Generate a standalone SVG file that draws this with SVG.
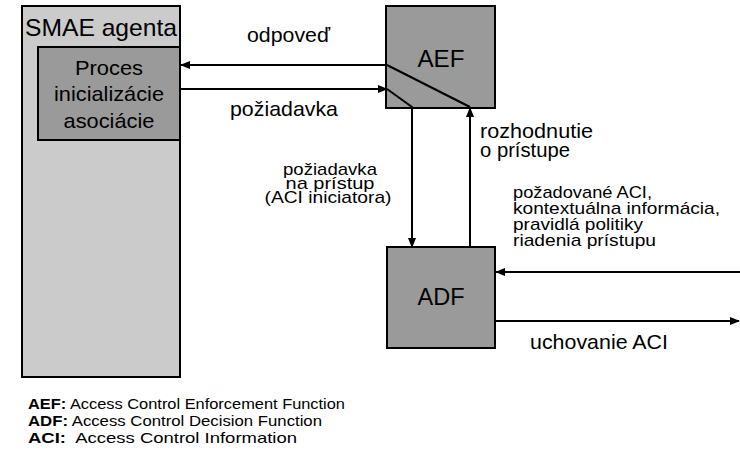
<svg xmlns="http://www.w3.org/2000/svg" width="740" height="453" viewBox="0 0 740 453">
  <style>
    text { font-family: "Liberation Sans", Arial, Helvetica, sans-serif; fill: #000; }
    .box { stroke: #000; stroke-width: 2; }
    .outer { fill: #cbcbcb; }
    .dark { fill: #9a9a9a; }
    .lbl { font-size: 21px; }
    .big { font-size: 24px; }
    .small { font-size: 17px; }
    .legend { font-size: 14.5px; }
    .conn { stroke: #000; stroke-width: 2; fill: none; }
    .arr { marker-end: url(#head); }
  </style>
  <defs>
    <marker id="head" markerUnits="userSpaceOnUse" markerWidth="10" markerHeight="8" refX="9" refY="4" orient="auto">
      <path d="M0,0 L10,4 L0,8 z" fill="#000"/>
    </marker>
  </defs>

  <!-- SMAE agent with the association initialisation process -->
  <g id="smae">
    <rect class="box outer" x="22" y="6" width="158" height="371"/>
    <text x="25" y="36" font-size="24" textLength="152" lengthAdjust="spacingAndGlyphs">SMAE agenta</text>
  </g>
  <g id="proces">
    <rect class="box dark" x="38" y="47" width="142" height="93"/>
    <text class="lbl" x="109" y="75" text-anchor="middle" textLength="68" lengthAdjust="spacingAndGlyphs">Proces</text>
    <text class="lbl" x="109" y="101" text-anchor="middle" textLength="110" lengthAdjust="spacingAndGlyphs">inicializácie</text>
    <text class="lbl" x="109" y="128" text-anchor="middle" textLength="91" lengthAdjust="spacingAndGlyphs">asociácie</text>
  </g>

  <!-- enforcement function -->
  <g id="aef">
    <rect class="box dark" x="386" y="6" width="109" height="102"/>
    <text class="big" x="441" y="67" text-anchor="middle" textLength="47" lengthAdjust="spacingAndGlyphs">AEF</text>
  </g>

  <!-- decision function -->
  <g id="adf">
    <rect class="box dark" x="387" y="247" width="108" height="101"/>
    <text class="big" x="441" y="305" text-anchor="middle" textLength="47" lengthAdjust="spacingAndGlyphs">ADF</text>
  </g>

  <!-- connectors -->
  <g id="connectors">
    <line class="conn arr" x1="387" y1="65" x2="181" y2="65"/>
    <line class="conn arr" x1="180" y1="89" x2="387" y2="89"/>
    <polyline class="conn" points="387,65 470,107"/>
    <polyline class="conn arr" points="387,89 412,107 412,247"/>
    <line class="conn arr" x1="470" y1="247" x2="470" y2="108"/>
    <line class="conn arr" x1="740" y1="272" x2="496" y2="272"/>
    <line class="conn arr" x1="495" y1="321" x2="739" y2="321"/>
  </g>

  <!-- connector labels -->
  <g id="labels">
    <text class="lbl" x="247" y="42" textLength="83" lengthAdjust="spacingAndGlyphs">odpoveď</text>
    <text class="lbl" x="230" y="116" textLength="108" lengthAdjust="spacingAndGlyphs">požiadavka</text>
    <text class="lbl" x="480" y="138" textLength="113" lengthAdjust="spacingAndGlyphs">rozhodnutie</text>
    <text class="lbl" x="480" y="157" textLength="90" lengthAdjust="spacingAndGlyphs">o prístupe</text>
    <text class="small" x="330" y="175" text-anchor="middle" textLength="94" lengthAdjust="spacingAndGlyphs">požiadavka</text>
    <text class="small" x="330" y="189" text-anchor="middle" textLength="89" lengthAdjust="spacingAndGlyphs">na prístup</text>
    <text class="small" x="328" y="203" text-anchor="middle" textLength="127" lengthAdjust="spacingAndGlyphs">(ACI iniciatora)</text>
    <text class="small" x="513" y="198" textLength="139" lengthAdjust="spacingAndGlyphs">požadované ACI,</text>
    <text class="small" x="513" y="214" textLength="207" lengthAdjust="spacingAndGlyphs">kontextuálna informácia,</text>
    <text class="small" x="513" y="230" textLength="130" lengthAdjust="spacingAndGlyphs">pravidlá politiky</text>
    <text class="small" x="513" y="246" textLength="143" lengthAdjust="spacingAndGlyphs">riadenia prístupu</text>
    <text class="lbl" x="530" y="349" textLength="138" lengthAdjust="spacingAndGlyphs">uchovanie ACI</text>
  </g>

  <!-- abbreviations -->
  <g id="legend" class="legend">
    <text x="28" y="409" textLength="317" lengthAdjust="spacingAndGlyphs"><tspan font-weight="bold">AEF:</tspan> Access Control Enforcement Function</text>
    <text x="28" y="426" textLength="294" lengthAdjust="spacingAndGlyphs"><tspan font-weight="bold">ADF:</tspan> Access Control Decision Function</text>
    <text x="28" y="443" textLength="269" lengthAdjust="spacingAndGlyphs" xml:space="preserve"><tspan font-weight="bold">ACI:</tspan>  Access Control Information</text>
  </g>
</svg>
